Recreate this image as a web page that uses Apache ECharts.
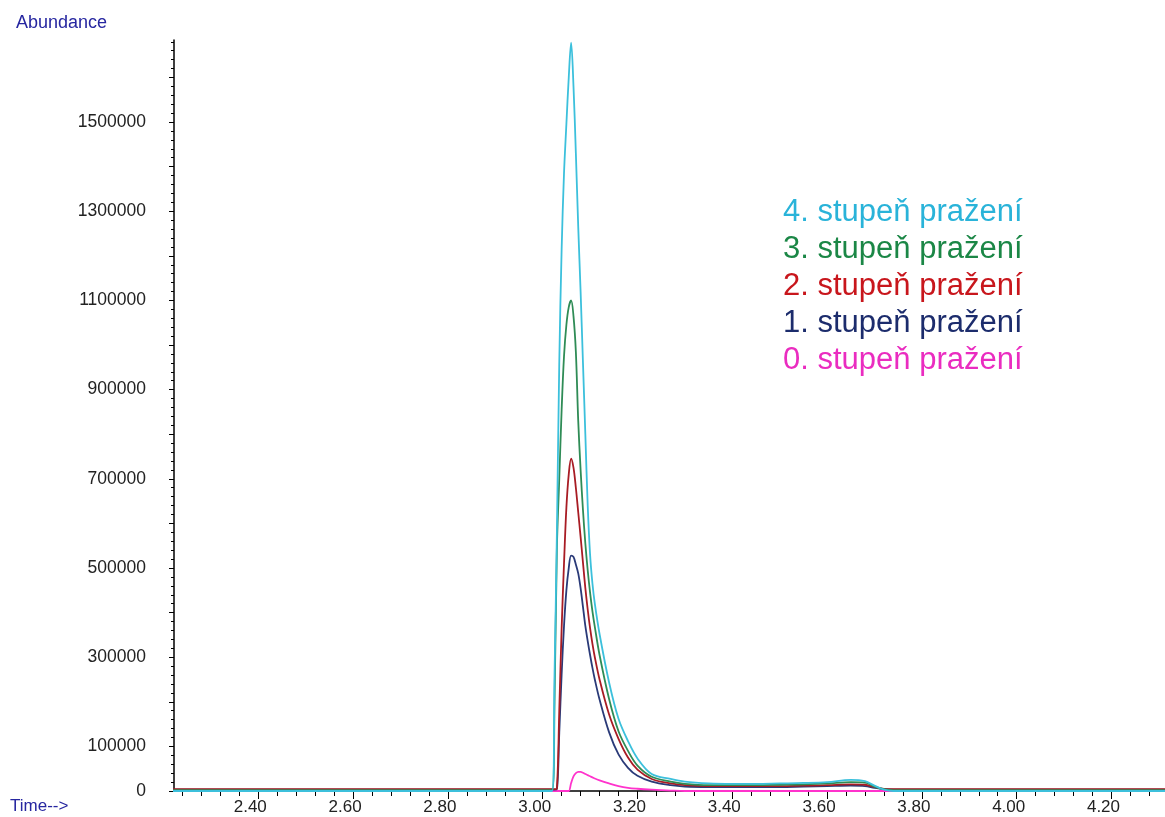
<!DOCTYPE html>
<html>
<head>
<meta charset="utf-8">
<script src="https://cdn.jsdelivr.net/npm/echarts@6/dist/echarts.min.js"></script>
<style>
  html, body { margin: 0; padding: 0; background: #fff; }
  #main { width: 1165px; height: 817px; }
</style>
</head>
<body>
<div id="main"></div>
<script>
// retention time (min)
const times = [2.22, 3.00, 3.02, 3.025, 3.03, 3.035, 3.04, 3.045, 3.05, 3.055,
  3.06, 3.065, 3.07, 3.075, 3.08, 3.085, 3.09, 3.095, 3.10, 3.105,
  3.11, 3.12, 3.14, 3.16, 3.18, 3.20, 3.23, 3.27, 3.30, 3.35,
  3.40, 3.45, 3.50, 3.55, 3.60, 3.65, 3.68, 3.70, 3.72, 3.74,
  3.80, 4.32];

// abundance per roasting level
const stage0 = [0, 0, 0, 0, 0, 0, 0, 0, 0, 0,
  18000, 33000, 40000, 43000, 43000, 41000, 38000, 35500, 33000, 30500,
  28000, 24000, 17000, 11000, 7000, 5000, 3000, 1000, 0, 0,
  0, 0, 0, 0, 0, 0, 0, 0, 0, 0,
  0, 0];
const stage1 = [3000, 3000, 3000, 3000, 4000, 130000, 262000, 370000, 450000, 500000,
  528000, 525000, 508000, 488000, 455000, 413000, 370000, 336000, 305000, 276000,
  250000, 205000, 132000, 82000, 52000, 34000, 21000, 13000, 10000, 9000,
  9000, 9000, 9000, 10000, 11000, 12000, 11000, 7000, 4000, 3000,
  3000, 3000];
const stage2 = [4000, 4000, 4000, 4000, 6000, 180000, 365000, 510000, 635000, 710000,
  745000, 725000, 680000, 625000, 570000, 512000, 455000, 407000, 365000, 330000,
  300000, 250000, 172000, 117000, 75000, 48000, 27000, 17000, 13000, 11000,
  11000, 11000, 11000, 12000, 13000, 15000, 14000, 9000, 5000, 4000,
  4000, 4000];
const stage3 = [2000, 2000, 2000, 200000, 545000, 700000, 855000, 975000, 1045000, 1085000,
  1100000, 1065000, 985000, 830000, 720000, 630000, 555000, 495000, 445000, 403000,
  368000, 305000, 207000, 134000, 90000, 57000, 32000, 21000, 16000, 13000,
  13000, 13000, 14000, 15000, 17000, 20000, 19000, 10000, 4000, 2000,
  2000, 2000];
const stage4 = [0, 0, 0, 260000, 580000, 960000, 1215000, 1385000, 1495000, 1600000,
  1678000, 1580000, 1430000, 1265000, 1120000, 960000, 800000, 640000, 530000, 465000,
  420000, 352000, 244000, 162000, 112000, 73000, 38000, 27000, 21000, 17000,
  16000, 16000, 17000, 18000, 20000, 25000, 22000, 12000, 3000, 0,
  0, 0];

const seriesNames = ['0. stupeň pražení', '1. stupeň pražení', '2. stupeň pražení', '3. stupeň pražení', '4. stupeň pražení'];
const seriesData = [stage0, stage1, stage2, stage3, stage4];
const lineColors = ['#ff33cc', '#2a3a78', '#a81c24', '#2f8c56', '#3cc0dc'];
const textColors = ['#ea2cc0', '#1c2c6c', '#c8161c', '#1b8746', '#29b3d9'];

// axis ticks and labels
const xMajor = [2.40, 2.60, 2.80, 3.00, 3.20, 3.40, 3.60, 3.80, 4.00, 4.20];
const xMinor = [2.24, 2.28, 2.32, 2.36, 2.44, 2.48, 2.52, 2.56, 2.64, 2.68, 2.72, 2.76, 2.84, 2.88, 2.92, 2.96,
  3.04, 3.08, 3.12, 3.16, 3.24, 3.28, 3.32, 3.36, 3.44, 3.48, 3.52, 3.56, 3.64, 3.68, 3.72, 3.76,
  3.84, 3.88, 3.92, 3.96, 4.04, 4.08, 4.12, 4.16, 4.24, 4.28];
const yLabels = [0, 100000, 300000, 500000, 700000, 900000, 1100000, 1300000, 1500000];

const yMajor = [];
for (let v = 0; v <= 1600000; v += 100000) yMajor.push(v);
const yMinor = [];
for (let v = 20000; v <= 1680000; v += 20000) if (v % 100000 !== 0) yMinor.push(v);

const X_MIN = 2.2222, X_MAX = 4.3129, Y_MAX = 1684000;
const FONT = '"Liberation Sans", Arial, sans-serif';

const chart = echarts.init(document.getElementById('main'));
chart.setOption({
  animation: false,
  backgroundColor: '#fff',
  grid: { left: 174, right: 0, top: 40, bottom: 26, outerBoundsMode: 'none' },
  xAxis: [{
    type: 'value', position: 'bottom', min: X_MIN, max: X_MAX,
    axisLine: { show: true, lineStyle: { color: '#000', width: 1.5 } },
    axisTick: { show: true, customValues: xMajor, length: 8, lineStyle: { color: '#000' } },
    axisLabel: {
      customValues: xMajor, margin: 8, padding: [0, 16, 0, 0],
      color: '#222', fontSize: 17, fontFamily: FONT,
      formatter: v => v.toFixed(2)
    },
    splitLine: { show: false }
  }, {
    type: 'value', position: 'bottom', min: X_MIN, max: X_MAX,
    axisLine: { show: false },
    axisTick: { show: true, customValues: xMinor, length: 5, lineStyle: { color: '#000' } },
    axisLabel: { show: false },
    splitLine: { show: false }
  }],
  yAxis: [{
    type: 'value', position: 'left', min: 0, max: Y_MAX,
    axisLine: { show: true, lineStyle: { color: '#000', width: 1.5 } },
    axisTick: { show: true, customValues: yMajor, length: 5, lineStyle: { color: '#000' } },
    axisLabel: {
      customValues: yLabels, margin: 28,
      color: '#222', fontSize: 17.5, fontFamily: FONT,
      formatter: v => String(v)
    },
    splitLine: { show: false }
  }, {
    type: 'value', position: 'left', min: 0, max: Y_MAX,
    axisLine: { show: false },
    axisTick: { show: true, customValues: yMinor, length: 3, lineStyle: { color: '#000' } },
    axisLabel: { show: false },
    splitLine: { show: false }
  }],
  legend: {
    orient: 'vertical', left: 778, top: 197, padding: 0, itemGap: 6,
    itemWidth: 0, itemHeight: 0, icon: 'none', selectedMode: false,
    textStyle: { fontSize: 31, fontFamily: FONT },
    data: seriesNames.slice().reverse().map(n => ({
      name: n, textStyle: { color: textColors[seriesNames.indexOf(n)] }
    }))
  },
  graphic: [
    { type: 'text', x: 16, y: 23, style: { text: 'Abundance', fill: '#2626a0', font: '18px ' + FONT, verticalAlign: 'middle' } },
    { type: 'text', x: 10, y: 806, style: { text: 'Time-->', fill: '#2626a0', font: '17px ' + FONT, verticalAlign: 'middle' } }
  ],
  series: seriesNames.map((name, i) => ({
    name: name,
    type: 'line',
    xAxisIndex: 0, yAxisIndex: 0,
    data: times.map((t, k) => [t, seriesData[i][k]]),
    showSymbol: false,
    smooth: 0.35,
    color: lineColors[i],
    lineStyle: { color: lineColors[i], width: 1.8 }
  }))
});
</script>
</body>
</html>
